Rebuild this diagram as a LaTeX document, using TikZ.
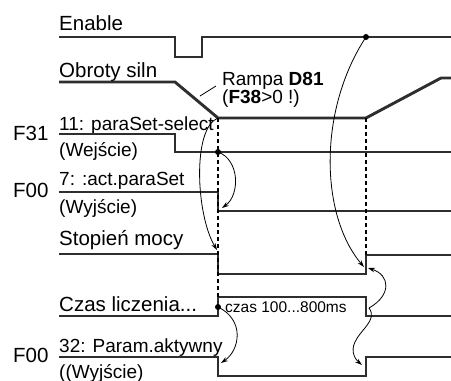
\documentclass[tikz,border=0pt]{standalone}
\usepackage{fontspec}
\setmainfont{Liberation Sans}
\usetikzlibrary{arrows.meta}

\begin{document}
\begin{tikzpicture}[x=1pt,y=-1pt,
  signal/.style={line width=2.9pt, draw=black!82},
  biglbl/.style={anchor=base west, inner sep=0pt, font=\fontsize{20.5}{22}\selectfont},
  sublbl/.style={anchor=base west, inner sep=0pt, font=\fontsize{19}{20}\selectfont},
  marker/.style={line width=1.4pt, dash pattern=on 4pt off 3pt},
  cause/.style={-{Stealth[length=7pt,width=4.5pt]}, line width=0.8pt},
  joint/.style={circle, fill=black, inner sep=0pt, minimum size=6pt}]
\useasboundingbox (0,0) rectangle (451,381);

% Enable
\node[biglbl] (enable) at (59,30) {Enable};
\draw[signal] (59,37) -- (175,37) -- (175,57) -- (202,57) -- (202,37) -- (451,37);

% Obroty silnika with ramp
\node[biglbl] (obroty) at (59,77) {Obroty siln};
\draw[signal] (59,82) -- (175,82) -- (218,118) -- (366,118) -- (441,78) -- (451,78);
\node[sublbl] (rampa) at (222,85) {Rampa \textbf{D81}};
\node[sublbl] (rampacond) at (222,103) {(\textbf{F38}>0 !)};
\draw[line width=0.8pt] (200,96) -- (216,86);

% F31 paraSet-select (input)
\node[biglbl] (f31) at (13,140) {F31};
\node[sublbl] (select) at (59,130) {11: paraSet-select};
\node[sublbl] (selectin) at (59,156) {(Wejście)};
\draw[signal] (59,134) -- (175,134) -- (175,152) -- (451,152);

% F00 act.paraSet (output)
\node[biglbl] (f00a) at (13,197) {F00};
\node[sublbl] (actset) at (59,185) {7: :act.paraSet};
\node[sublbl] (actout) at (59,213) {(Wyjście)};
\draw[signal] (59,192) -- (218,192) -- (218,211) -- (451,211);

% Stopien mocy
\node[biglbl] (stopien) at (59,245) {Stopień mocy};
\draw[signal] (59,254) -- (218,254) -- (218,274) -- (366,274) -- (366,255) -- (451,255);

% Czas liczenia
\node[biglbl] (czas) at (59,311) {Czas liczenia...};
\draw[signal] (59,316) -- (218,316) -- (218,297) -- (366,297) -- (366,316) -- (451,316);
\node[anchor=base west, inner sep=0pt, font=\fontsize{15.5}{17}\selectfont] (okres) at (225,312) {czas 100...800ms};

% F00 Param.aktywny (output)
\node[biglbl] (f00b) at (13,362) {F00};
\node[sublbl] (aktywny) at (59,352) {32: Param.aktywny};
\node[sublbl] (aktout) at (59,378) {((Wyjście)};
\draw[signal] (59,357) -- (218,357) -- (218,376) -- (366,376) -- (366,357) -- (451,357);

% Time markers
\draw[marker] (218,118) -- (218,297);
\draw[marker] (366,118) -- (366,255);

% Event points
\node[joint] (en) at (366,37) {};
\node[joint] (sel) at (218,152) {};
\node[joint] (start) at (218,307) {};
\coordinate (rampend) at (218,118);
\coordinate (czasend) at (369,308);

% Dependencies
\draw[cause] (en.center) .. controls (318,110) and (320,215) .. (364,267);
\draw[cause] (rampend) .. controls (192,128) and (196,215) .. (217,250);
\draw[cause] (sel.center) .. controls (240,160) and (240,195) .. (222,208);
\draw[cause] (czasend) .. controls (392,295) and (390,275) .. (368,268);
\draw[cause] (start.center) .. controls (245,320) and (240,350) .. (221,363);
\draw[cause] (czasend) .. controls (378,320) and (360,330) .. (355,342) .. controls (350,352) and (356,360) .. (362,365);
\end{tikzpicture}
\end{document}
